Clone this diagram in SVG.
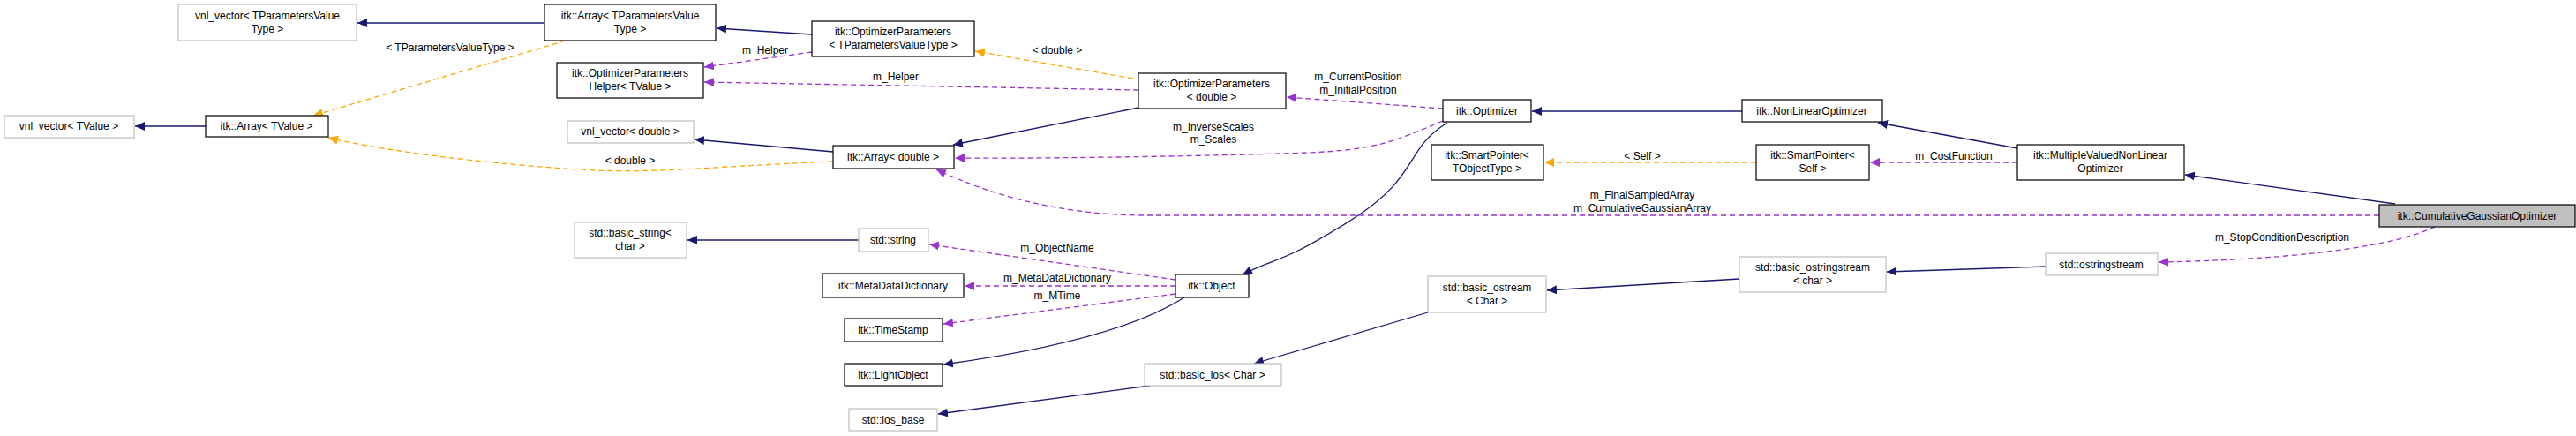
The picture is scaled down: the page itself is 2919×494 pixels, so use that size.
<svg xmlns="http://www.w3.org/2000/svg" width="2919" height="494" viewBox="0 0 2919 494">
<style>
text{font-family:"Liberation Sans",Arial,sans-serif;font-size:12px;fill:#000;text-anchor:middle}
.n{fill:#fff;stroke:#000;stroke-width:1.2}
.g{fill:#fff;stroke:#bfbfbf;stroke-width:1.2}
.h{fill:#bfbfbf;stroke:#000;stroke-width:1.2}
.b{fill:none;stroke:#191970;stroke-width:1.3}
.o{fill:none;stroke:#ffa500;stroke-width:1.3;stroke-dasharray:6,4}
.p{fill:none;stroke:#9a32cd;stroke-width:1.3;stroke-dasharray:6,4}
.b{marker-end:url(#mb)}.o{marker-end:url(#mo)}.p{marker-end:url(#mp)}
</style>
<defs>
<marker id="mb" markerUnits="userSpaceOnUse" markerWidth="12" markerHeight="10" refX="11" refY="5" orient="auto"><path d="M0,0L11,5L0,10z" fill="#191970"/></marker>
<marker id="mo" markerUnits="userSpaceOnUse" markerWidth="12" markerHeight="10" refX="11" refY="5" orient="auto"><path d="M0,0L11,5L0,10z" fill="#ffa500"/></marker>
<marker id="mp" markerUnits="userSpaceOnUse" markerWidth="12" markerHeight="10" refX="11" refY="5" orient="auto"><path d="M0,0L11,5L0,10z" fill="#9a32cd"/></marker>
</defs>
<g id="connectors">
<path class="b" d="M617,26L405,26"/>
<path class="b" d="M920,39L812,32"/>
<path class="b" d="M233,143L153,143"/>
<path class="b" d="M944,172L787,158"/>
<path class="b" d="M1290,122L1080,164"/>
<path class="b" d="M1974,126L1736,126"/>
<path class="b" d="M2286,168L2128,139"/>
<path class="b" d="M2714,231L2476,198"/>
<path class="b" d="M1640,139C1590,170 1610,200 1530,250S1450,290 1408,311"/>
<path class="b" d="M1342,337C1290,370 1200,395 1069,413"/>
<path class="b" d="M1618,354L1421,412"/>
<path class="b" d="M1303,437L1063,469"/>
<path class="b" d="M1971,316L1753,329"/>
<path class="b" d="M2318,302L2138,308"/>
<path class="b" d="M973,272L779,272"/>
<path class="o" d="M641,46L355,131"/>
<path class="o" d="M944,183C820,188 750,196 676,193S450,175 372,156"/>
<path class="o" d="M1284,89L1105,58"/>
<path class="o" d="M1990,184L1750,184"/>
<path class="p" d="M920,59L798,76"/>
<path class="p" d="M1290,102L798,93"/>
<path class="p" d="M1635,123L1458,110"/>
<path class="p" d="M1635,137C1580,160 1560,170 1480,173S1200,180 1082,179"/>
<path class="p" d="M2696,244L1300,244C1200,244 1120,220 1061,192"/>
<path class="p" d="M2286,184L2119,184"/>
<path class="p" d="M2759,257C2700,285 2560,295 2446,297"/>
<path class="p" d="M1332,317L1053,277"/>
<path class="p" d="M1332,324L1093,324"/>
<path class="p" d="M1332,333L1069,367"/>
<text x="510" y="58">&lt; TParametersValueType &gt;</text>
<text x="714" y="186">&lt; double &gt;</text>
<text x="1198" y="61">&lt; double &gt;</text>
<text x="1861" y="181">&lt; Self &gt;</text>
<text x="867" y="61">m_Helper</text>
<text x="1015" y="91">m_Helper</text>
<text x="1539" y="91">m_CurrentPosition</text>
<text x="1539" y="106">m_InitialPosition</text>
<text x="1375" y="148">m_InverseScales</text>
<text x="1375" y="162">m_Scales</text>
<text x="1861" y="225">m_FinalSampledArray</text>
<text x="1861" y="240">m_CumulativeGaussianArray</text>
<text x="2214" y="181">m_CostFunction</text>
<text x="2586" y="273">m_StopConditionDescription</text>
<text x="1198" y="285">m_ObjectName</text>
<text x="1198" y="319">m_MetaDataDictionary</text>
<text x="1198" y="339">m_MTime</text>
</g>
<g id="vnl_TP"><rect class="g" x="202" y="5" width="202" height="41"/><text x="303" y="22">vnl_vector&lt; TParametersValue</text><text x="303" y="37">Type &gt;</text></g>
<g id="array_TP"><rect class="n" x="617" y="5" width="194" height="41"/><text x="714" y="22">itk::Array&lt; TParametersValue</text><text x="714" y="37">Type &gt;</text></g>
<g id="optparams_TP"><rect class="n" x="920" y="24" width="184" height="40"/><text x="1012" y="40">itk::OptimizerParameters</text><text x="1012" y="55">&lt; TParametersValueType &gt;</text></g>
<g id="helper"><rect class="n" x="631" y="71" width="166" height="40"/><text x="714" y="87">itk::OptimizerParameters</text><text x="714" y="102">Helper&lt; TValue &gt;</text></g>
<g id="vnl_TV"><rect class="g" x="5" y="131" width="147" height="25"/><text x="78" y="147">vnl_vector&lt; TValue &gt;</text></g>
<g id="array_TV"><rect class="n" x="233" y="131" width="139" height="24"/><text x="302" y="147">itk::Array&lt; TValue &gt;</text></g>
<g id="vnl_d"><rect class="g" x="643" y="137" width="143" height="25"/><text x="714" y="153">vnl_vector&lt; double &gt;</text></g>
<g id="array_d"><rect class="n" x="944" y="165" width="137" height="26"/><text x="1012" y="182">itk::Array&lt; double &gt;</text></g>
<g id="optparams_d"><rect class="n" x="1290" y="83" width="167" height="40"/><text x="1373" y="99">itk::OptimizerParameters</text><text x="1373" y="114">&lt; double &gt;</text></g>
<g id="optimizer"><rect class="n" x="1635" y="113" width="100" height="25"/><text x="1685" y="130">itk::Optimizer</text></g>
<g id="sp_T"><rect class="n" x="1622" y="164" width="127" height="40"/><text x="1685" y="180">itk::SmartPointer&lt;</text><text x="1685" y="195">TObjectType &gt;</text></g>
<g id="nonlinear"><rect class="n" x="1974" y="113" width="159" height="25"/><text x="2053" y="130">itk::NonLinearOptimizer</text></g>
<g id="sp_self"><rect class="n" x="1990" y="164" width="128" height="40"/><text x="2054" y="180">itk::SmartPointer&lt;</text><text x="2054" y="195">Self &gt;</text></g>
<g id="multi"><rect class="n" x="2286" y="164" width="189" height="40"/><text x="2380" y="180">itk::MultipleValuedNonLinear</text><text x="2380" y="195">Optimizer</text></g>
<g id="cumgauss"><rect class="h" x="2696" y="232" width="222" height="25"/><text x="2807" y="249">itk::CumulativeGaussianOptimizer</text></g>
<g id="ostringstream"><rect class="g" x="2318" y="287" width="127" height="25"/><text x="2381" y="304">std::ostringstream</text></g>
<g id="basic_ostringstream"><rect class="g" x="1971" y="291" width="166" height="40"/><text x="2054" y="307">std::basic_ostringstream</text><text x="2054" y="322">&lt; char &gt;</text></g>
<g id="basic_string"><rect class="g" x="651" y="252" width="127" height="40"/><text x="714" y="268">std::basic_string&lt;</text><text x="714" y="283">char &gt;</text></g>
<g id="string"><rect class="g" x="973" y="259" width="79" height="26"/><text x="1012" y="276">std::string</text></g>
<g id="mdd"><rect class="n" x="932" y="310" width="160" height="27"/><text x="1012" y="328">itk::MetaDataDictionary</text></g>
<g id="timestamp"><rect class="n" x="957" y="361" width="111" height="26"/><text x="1012" y="378">itk::TimeStamp</text></g>
<g id="lightobject"><rect class="n" x="957" y="412" width="111" height="25"/><text x="1012" y="429">itk::LightObject</text></g>
<g id="ios_base"><rect class="g" x="962" y="463" width="100" height="25"/><text x="1012" y="480">std::ios_base</text></g>
<g id="object"><rect class="n" x="1332" y="311" width="83" height="26"/><text x="1373" y="328">itk::Object</text></g>
<g id="basic_ostream"><rect class="g" x="1618" y="313" width="134" height="41"/><text x="1685" y="330">std::basic_ostream</text><text x="1685" y="345">&lt; Char &gt;</text></g>
<g id="basic_ios"><rect class="g" x="1297" y="412" width="155" height="25"/><text x="1374" y="429">std::basic_ios&lt; Char &gt;</text></g>
</svg>
